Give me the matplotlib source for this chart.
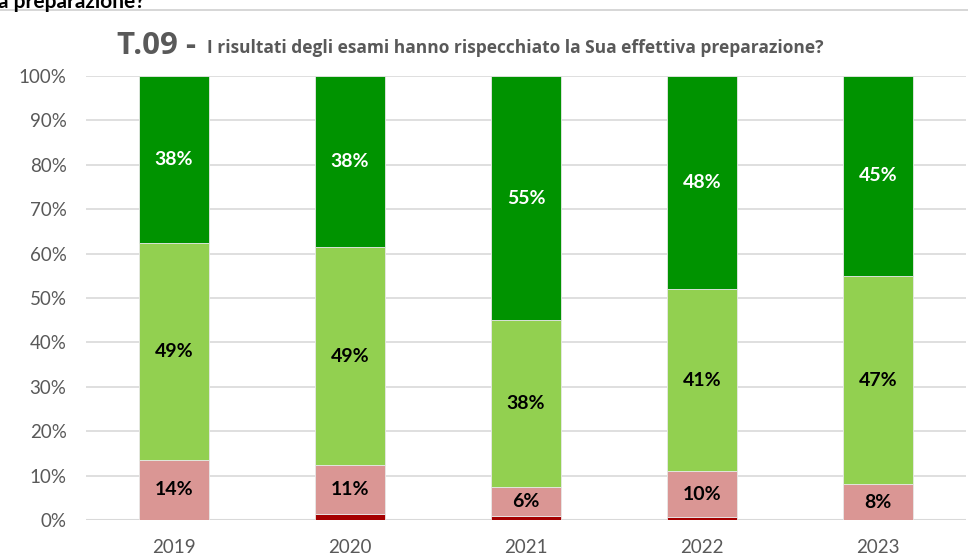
import matplotlib.pyplot as plt
import numpy as np

plt.rcParams['font.family'] = ['Lato', 'DejaVu Sans']

years = ['2019', '2020', '2021', '2022', '2023']
# quote di risposta (%), dal basso verso l'alto
dark_red = [0.0, 1.3, 0.9, 0.6, 0.0]
pink = [13.6, 11.0, 6.5, 10.4, 8.0]
light_green = [48.8, 49.2, 37.6, 41.0, 47.0]
green = [37.6, 38.5, 55.0, 48.0, 45.0]

series = [dark_red, pink, light_green, green]
colors = ['#A50000', '#DA9694', '#92D050', '#009300']
text_colors = [None, 'black', 'black', 'white']

fig = plt.figure(figsize=(9.68, 5.58), dpi=100)
ax = fig.add_axes([86 / 968, 1 - 520 / 558, 880 / 968, 444 / 558])

x = np.arange(len(years))
bottom = np.zeros(len(years))
for vals, col, tcol in zip(series, colors, text_colors):
    vals = np.array(vals)
    ax.bar(x, vals, bottom=bottom, width=0.4, color=col, edgecolor='#e8e8e8',
           linewidth=0.6, zorder=3)
    if tcol is not None:
        for xi, b, v in zip(x, bottom, vals):
            ax.text(xi, b + v / 2, f'{v:.0f}%', ha='center', va='center',
                    fontsize=14, fontweight='bold', color=tcol, zorder=4)
    bottom += vals

ax.set_xlim(-0.5, 4.5)
ax.set_ylim(0, 100)
ax.set_yticks(np.arange(0, 101, 10))
ax.set_yticklabels([f'{t}%' for t in range(0, 101, 10)], fontsize=13.5, color='#595959')
ax.set_xticks(x)
ax.set_xticklabels(years, fontsize=13.5, color='#595959')
ax.tick_params(axis='both', length=0)
ax.tick_params(axis='y', pad=14)
ax.tick_params(axis='x', pad=14)
ax.grid(axis='y', color='#d9d9d9', linewidth=1.2, zorder=0)
for s in ax.spines.values():
    s.set_visible(False)
ax.axhline(0, color='#d9d9d9', linewidth=1.5, zorder=2)

# titolo
fig.text(117 / 968, 1 - 46 / 558, 'T.09 -', fontsize=22.5, fontweight='bold',
         color='#595959', va='center', ha='left', family=['Open Sans', 'DejaVu Sans'])
fig.text(207 / 968, 1 - 48 / 558,
         'I risultati degli esami hanno rispecchiato la Sua effettiva preparazione?',
         fontsize=12.55, fontweight='bold', color='#595959', va='center', ha='left',
         family=['Open Sans', 'DejaVu Sans'])

# testo tagliato in alto e linea
fig.text(-2 / 968, 1 - 2 / 558, 'a preparazione?', fontsize=15, fontweight='bold',
         color='black', va='center', ha='left')
fig.add_artist(plt.Line2D([0, 1], [1 - 10 / 558, 1 - 10 / 558], color='#d0d0d0',
                          linewidth=1.2, transform=fig.transFigure))

fig.savefig('out.png', dpi=100)
